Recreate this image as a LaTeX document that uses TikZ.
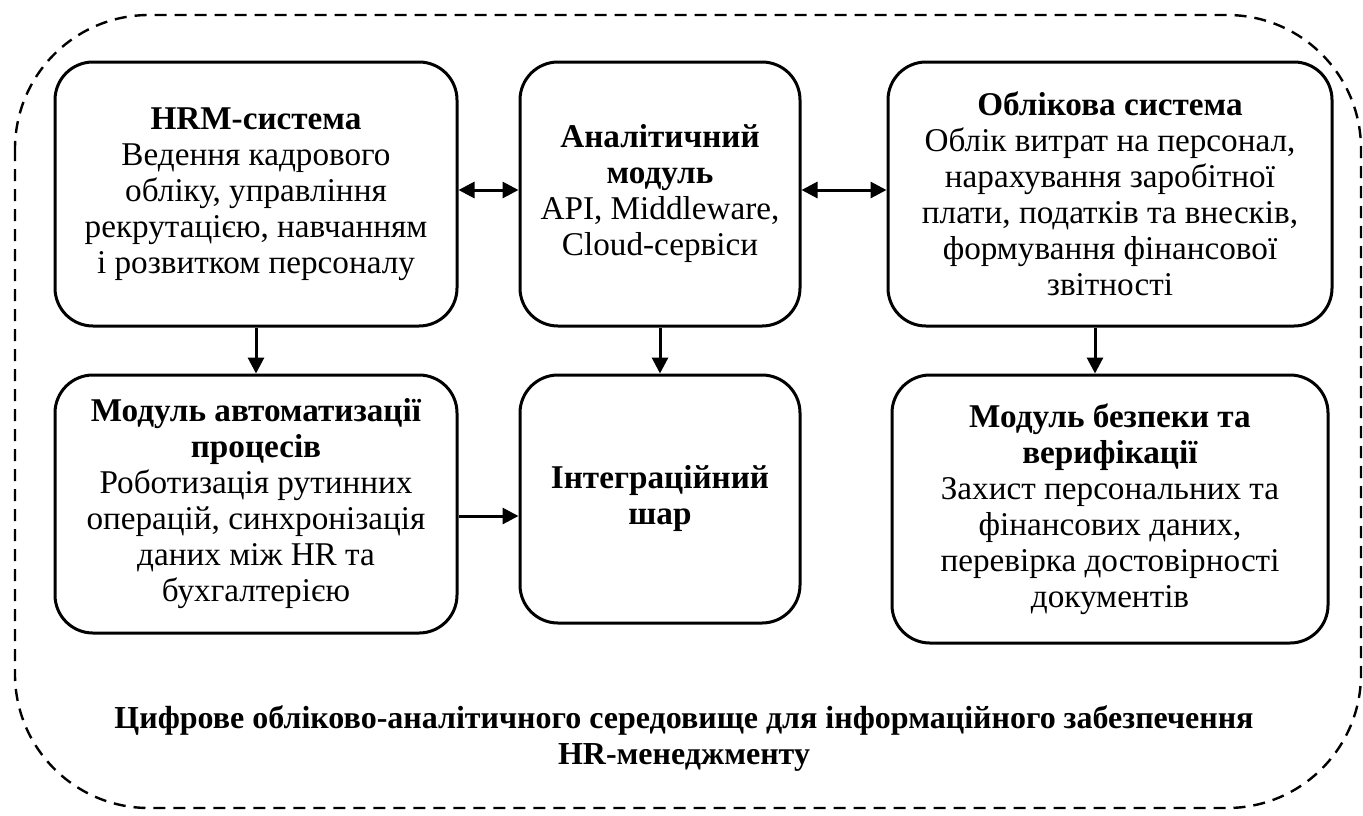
\documentclass[tikz,border=0pt]{standalone}
\usepackage{fontspec}
\setmainfont{Liberation Serif}
\usetikzlibrary{arrows.meta,positioning}

\begin{document}
\begin{tikzpicture}[
  box/.style={draw, line width=1.5pt, rounded corners=19pt, minimum width=201pt, minimum height=132pt, align=center, inner sep=2pt, font=\fontsize{16.6pt}{18pt}\selectfont},
  arrow/.style={-{Triangle[length=8pt, width=8pt]}, line width=1.5pt},
  dblarrow/.style={{Triangle[length=8pt, width=8pt]}-{Triangle[length=8pt, width=8pt]}, line width=1.5pt},
]
  \useasboundingbox (0,0) rectangle (681.5pt,-407.5pt);
  \draw[line width=1.2pt, dash pattern=on 6pt off 4pt, rounded corners=67pt] (7.5pt,-7.5pt) rectangle (680.5pt,-404pt);
  \node[box] (hrm) at (128pt,-97pt) {\textbf{HRM-система}\\ Ведення кадрового\\ обліку, управління\\ рекрутацією, навчанням\\ і розвитком персоналу};
  \node[box, minimum width=140pt, right=30pt of hrm] (analytic) {\textbf{Аналітичний}\\ \textbf{модуль}\\ API, Middleware,\\ Cloud-сервіси};
  \node[box, minimum width=222pt, right=42.5pt of analytic] (acc) {\textbf{Облікова система}\\ Облік витрат на персонал,\\ нарахування заробітної\\ плати, податків та внесків,\\ формування фінансової\\ звітності};
  \node[box, minimum height=129pt, below=23pt of hrm] (autom) {\textbf{Модуль автоматизації}\\ \textbf{процесів}\\ Роботизація рутинних\\ операцій, синхронізація\\ даних між HR та\\ бухгалтерією};
  \node[box, minimum width=140pt, minimum height=124pt, below=23pt of analytic] (integr) {\textbf{Інтеграційний}\\ \textbf{шар}};
  \node[box, minimum width=218pt, minimum height=134pt, below=23pt of acc] (secur) {\textbf{Модуль безпеки та}\\ \textbf{верифікації}\\ Захист персональних та\\ фінансових даних,\\ перевірка достовірності\\ документів};
  \node[font=\bfseries\fontsize{16pt}{18pt}\selectfont, align=center] (caption) at (342pt,-369pt) {Цифрове обліково-аналітичного середовище для інформаційного забезпечення\\ HR-менеджменту};
  \draw[dblarrow] ([yshift=2pt]hrm.east) -- ([yshift=2pt]analytic.west);
  \draw[dblarrow] ([yshift=2pt]analytic.east) -- ([yshift=2pt]acc.west);
  \draw[arrow] (hrm) -- (autom);
  \draw[arrow] (analytic) -- (integr);
  \draw[arrow] ([xshift=-7.5pt]acc.south) -- ([xshift=-7.5pt]secur.north);
  \draw[arrow] ([yshift=-6pt]autom.east) -- ([yshift=-6pt]autom.east -| integr.west);
\end{tikzpicture}
\end{document}
